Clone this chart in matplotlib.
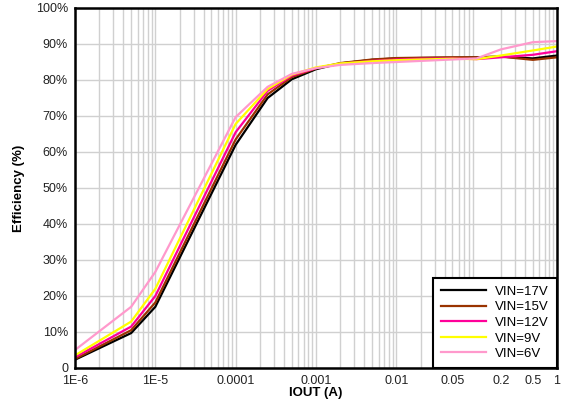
import matplotlib.pyplot as plt
import matplotlib.ticker as mticker
import numpy as np

plt.rcParams['font.family'] = ['Liberation Sans', 'DejaVu Sans']

iout = [1e-6, 5e-6, 1e-5, 1e-4, 2.5e-4, 5e-4, 1e-3, 2e-3, 5e-3, 1e-2, 2e-2, 5e-2, 0.1, 0.2, 0.5, 1.0]

eff_17v = [2.3, 9.7, 17.0, 62.0, 75.0, 80.2, 83.0, 84.6, 85.6, 86.0, 86.1, 86.2, 86.3, 86.5, 86.0, 86.8]
eff_15v = [2.5, 10.5, 18.2, 63.5, 76.0, 80.8, 83.2, 84.7, 85.7, 86.1, 86.2, 86.3, 86.3, 86.5, 85.6, 86.3]
eff_12v = [3.0, 11.5, 20.0, 65.5, 77.0, 81.2, 83.3, 84.5, 85.3, 85.7, 85.9, 86.0, 85.8, 86.3, 87.0, 88.0]
eff_9v = [3.5, 12.9, 22.0, 67.8, 77.5, 81.5, 83.5, 84.6, 85.2, 85.5, 85.7, 85.9, 85.8, 86.8, 88.2, 89.3]
eff_6v = [5.0, 17.0, 26.7, 69.7, 78.1, 81.7, 83.3, 84.2, 84.7, 85.0, 85.3, 85.7, 86.0, 88.5, 90.5, 90.8]

labels = ['VIN=17V', 'VIN=15V', 'VIN=12V', 'VIN=9V', 'VIN=6V']
colors = ['#000000', '#993300', '#FF0099', '#FFFF00', '#FF99CC']

xtick_vals = [1e-6, 1e-5, 1e-4, 1e-3, 1e-2, 0.05, 0.2, 0.5, 1.0]
xtick_labels = ['1E-6', '1E-5', '0.0001', '0.001', '0.01', '0.05', '0.2', '0.5', '1']
ytick_vals = list(range(0, 101, 10))
ytick_labels = ['0'] + ['%d%%' % v for v in ytick_vals[1:]]

fig = plt.figure(figsize=(5.64, 4.13), dpi=100)
ax = fig.add_axes([75 / 564, 45 / 413, 482 / 564, 360 / 413])

for y, lab, c in zip([eff_17v, eff_15v, eff_12v, eff_9v, eff_6v], labels, colors):
    ax.plot(iout, y, color=c, lw=1.6, label=lab)

ax.set_xscale('log')
ax.set_xlim(1e-6, 1.0)
ax.set_ylim(0, 100)

# grid on every decade and 2..9 within it
ax.xaxis.set_minor_locator(mticker.LogLocator(base=10, subs=np.arange(2, 10)))
ax.xaxis.set_minor_formatter(mticker.NullFormatter())
ax.set_xticks(xtick_vals)
ax.set_xticklabels(xtick_labels)
ax.set_yticks(ytick_vals)
ax.set_yticklabels(ytick_labels)
ax.grid(True, which='major', color='#d0d0d0', lw=1.0)
ax.grid(True, which='minor', axis='x', color='#d0d0d0', lw=1.0)
ax.set_axisbelow(True)
ax.tick_params(which='both', length=0, labelsize=9, colors='#222222', pad=5)

for s in ax.spines.values():
    s.set_linewidth(1.8)
    s.set_color('black')

ax.set_xlabel('IOUT (A)', fontsize=9.5, fontweight='bold', labelpad=0)
ax.set_ylabel('Efficiency (%)', fontsize=9.5, fontweight='bold', labelpad=8)

leg = ax.legend(loc='lower right', fontsize=9.5, frameon=True, fancybox=False,
                borderaxespad=0, handlelength=3.4, handletextpad=0.7,
                labelspacing=0.25, borderpad=0.6)
leg.get_frame().set_edgecolor('black')
leg.get_frame().set_linewidth(1.5)
leg.get_frame().set_alpha(1)

fig.savefig('out.png', dpi=100)
